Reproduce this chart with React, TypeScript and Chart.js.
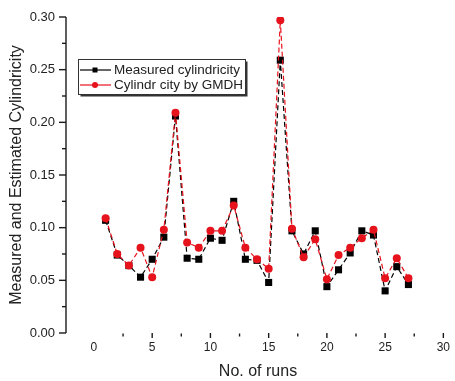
import { useEffect, useRef } from "react";
import { Chart, registerables } from "chart.js";

Chart.register(...registerables);

const runs = [1, 2, 3, 4, 5, 6, 7, 8, 9, 10, 11, 12, 13, 14, 15, 16, 17, 18, 19, 20, 21, 22, 23, 24, 25, 26, 27];
const measured = [0.107, 0.074, 0.064, 0.053, 0.070, 0.091, 0.206, 0.071, 0.070, 0.090, 0.088, 0.125, 0.070, 0.069, 0.048, 0.259, 0.097, 0.075, 0.097, 0.044, 0.060, 0.076, 0.097, 0.093, 0.040, 0.063, 0.046];
const gmdh = [0.109, 0.075, 0.064, 0.081, 0.053, 0.098, 0.209, 0.086, 0.081, 0.097, 0.097, 0.121, 0.081, 0.070, 0.061, 0.297, 0.099, 0.072, 0.089, 0.051, 0.074, 0.081, 0.090, 0.098, 0.052, 0.071, 0.052];

const seriesNames = ["Measured cylindricity", "Cylindr city by GMDH"];
const yMajorTicks = [0, 0.05, 0.1, 0.15, 0.2, 0.25, 0.3];
const yMinorTicks = [0.025, 0.075, 0.125, 0.175, 0.225, 0.275];
const xMajorTicks = [5, 10, 15, 20, 25, 30];
const xMinorTicks = [2.5, 7.5, 12.5, 17.5, 22.5, 27.5];

const RED = "#e6121c";
const BLACK = "#000000";
const TEXT = "#222222";
const FONT = "'Liberation Sans', Arial, sans-serif";

const axisPlugin = {
  id: "axisTicks",
  afterDraw(chart: any) {
    const ctx = chart.ctx;
    const xs = chart.scales.x;
    const ys = chart.scales.y;
    const area = chart.chartArea;
    ctx.save();
    ctx.strokeStyle = "#1a1a1a";
    ctx.lineWidth = 1.4;
    ctx.beginPath();
    ctx.moveTo(area.left, ys.getPixelForValue(0.3));
    ctx.lineTo(area.left, ys.getPixelForValue(0));
    ctx.stroke();
    yMajorTicks.forEach((v) => {
      const p = ys.getPixelForValue(v);
      ctx.beginPath();
      ctx.moveTo(area.left - 7, p);
      ctx.lineTo(area.left, p);
      ctx.stroke();
    });
    yMinorTicks.forEach((v) => {
      const p = ys.getPixelForValue(v);
      ctx.beginPath();
      ctx.moveTo(area.left - 4, p);
      ctx.lineTo(area.left, p);
      ctx.stroke();
    });
    const base = ys.getPixelForValue(0);
    xMajorTicks.forEach((v) => {
      const p = xs.getPixelForValue(v);
      ctx.beginPath();
      ctx.moveTo(p, base);
      ctx.lineTo(p, base + 5);
      ctx.stroke();
    });
    xMinorTicks.forEach((v) => {
      const p = xs.getPixelForValue(v);
      ctx.beginPath();
      ctx.moveTo(p, base + 0.5);
      ctx.lineTo(p, base + 3.5);
      ctx.stroke();
    });

    // legend
    const lx = 78.5, ly = 59.5, lw = 167, lh = 35;
    ctx.lineWidth = 1;
    ctx.strokeStyle = "#333";
    ctx.strokeRect(lx, ly, lw, lh);
    ctx.lineWidth = 2;
    ctx.beginPath();
    ctx.moveTo(lx + lw + 1, ly + 2);
    ctx.lineTo(lx + lw + 1, ly + lh + 1);
    ctx.lineTo(lx + 2, ly + lh + 1);
    ctx.stroke();
    const rows = [
      { y: 70, color: BLACK, style: "rect" },
      { y: 85, color: RED, style: "circle" },
    ];
    rows.forEach((row, i) => {
      ctx.strokeStyle = row.color;
      ctx.lineWidth = 1.2;
      ctx.beginPath();
      ctx.moveTo(80, row.y);
      ctx.lineTo(111, row.y);
      ctx.stroke();
      ctx.fillStyle = row.color;
      ctx.beginPath();
      if (row.style === "rect") {
        ctx.rect(95 - 2.5, row.y - 2.5, 5, 5);
      } else {
        ctx.arc(95, row.y, 3, 0, Math.PI * 2);
      }
      ctx.fill();
      ctx.fillStyle = TEXT;
      ctx.font = `13.5px ${FONT}`;
      ctx.textBaseline = "middle";
      ctx.textAlign = "left";
      ctx.fillText(seriesNames[i], 114, row.y + 0.5);
    });
    ctx.restore();
  },
};

export default function App() {
  const ref = useRef<HTMLCanvasElement | null>(null);

  useEffect(() => {
    if (!ref.current) return;
    const chart = new Chart(ref.current, {
      type: "line",
      data: {
        datasets: [
          {
            label: seriesNames[1],
            data: runs.map((r, i) => ({ x: r, y: gmdh[i] })),
            borderColor: RED,
            backgroundColor: RED,
            borderWidth: 1.2,
            borderDash: [5, 3],
            pointStyle: "circle",
            pointRadius: 4,
            pointBorderWidth: 0,
            order: 0,
          },
          {
            label: seriesNames[0],
            data: runs.map((r, i) => ({ x: r, y: measured[i] })),
            borderColor: BLACK,
            backgroundColor: BLACK,
            borderWidth: 1.2,
            borderDash: [5, 3],
            pointStyle: "rect",
            pointRadius: 5,
            pointBorderWidth: 0,
            order: 1,
          },
        ],
      },
      options: {
        animation: false,
        responsive: false,
        maintainAspectRatio: false,
        layout: { padding: { top: 17, right: 0, bottom: 0, left: 0 } },
        plugins: {
          legend: { display: false },
          tooltip: { enabled: false },
        },
        scales: {
          x: {
            type: "linear",
            min: -2.4,
            max: 30.57,
            grid: { display: false, drawTicks: false },
            border: { display: false },
            ticks: {
              stepSize: 5,
              includeBounds: false,
              autoSkip: false,
              maxRotation: 0,
              padding: 7,
              color: TEXT,
              font: { family: FONT, size: 12 },
              callback: (v: any) => String(v),
            },
            title: {
              display: true,
              text: "No. of runs",
              color: TEXT,
              font: { family: FONT, size: 16 },
              padding: { top: 0, bottom: 0 },
            },
            afterFit: (s: any) => {
              s.height = 48;
              s.paddingLeft = 0;
              s.paddingRight = 0;
            },
          },
          y: {
            min: 0,
            max: 0.3,
            grid: { display: false, drawTicks: false },
            border: { display: false },
            ticks: {
              stepSize: 0.05,
              padding: 11,
              color: TEXT,
              font: { family: FONT, size: 13 },
              callback: (v: any) => Number(v).toFixed(2),
            },
            title: {
              display: true,
              text: "Measured and Estimated Cylindricity",
              color: TEXT,
              font: { family: FONT, size: 16 },
              padding: { top: 7, bottom: 0 },
            },
            afterFit: (s: any) => {
              s.width = 66;
              s.paddingTop = 0;
              s.paddingBottom = 0;
            },
          },
        },
      },
      plugins: [axisPlugin],
    });
    return () => chart.destroy();
  }, []);

  return (
    <div style={{ position: "absolute", left: 0, top: 0, width: 455, height: 381, background: "#fff" }}>
      <canvas ref={ref} width={455} height={381} style={{ width: 455, height: 381 }} />
    </div>
  );
}
